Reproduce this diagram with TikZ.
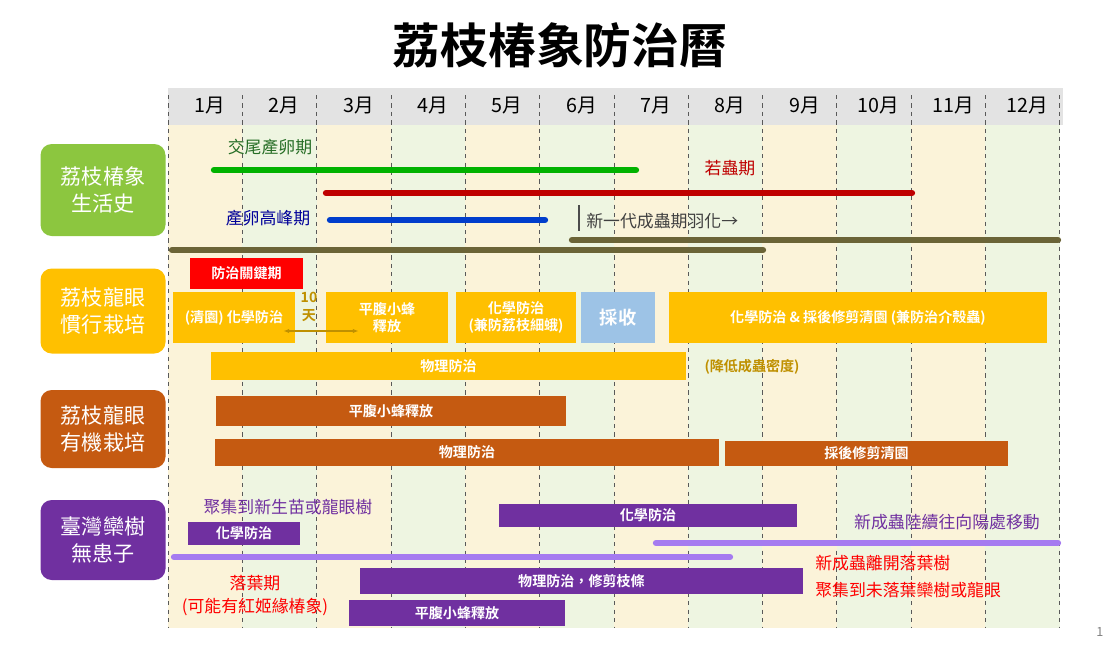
\documentclass[tikz,border=0pt]{standalone}
\usepackage{fontspec}
\setmainfont{Noto Sans CJK TC}
\newfontfamily\cjkb[FakeBold=0]{Noto Sans CJK TC Bold}
\usetikzlibrary{arrows.meta}

\definecolor{creambg}{HTML}{FBF3D9}
\definecolor{greenbg}{HTML}{EEF5E1}
\definecolor{headbg}{HTML}{E3E3E3}
\definecolor{leafgreen}{HTML}{8CC63F}
\definecolor{gold}{HTML}{FFC000}
\definecolor{rust}{HTML}{C55A11}
\definecolor{grape}{HTML}{7030A0}
\definecolor{lilac}{HTML}{A57BF0}
\definecolor{olive}{HTML}{6B6437}
\definecolor{sky}{HTML}{9DC3E6}
\definecolor{darkgold}{HTML}{BF9000}

% bar with centred label: x1 y1 x2 y2 colour text name
\newcommand{\tbar}[7]{%
  \fill[#5] (#1,#2) rectangle (#3,#4);
  \node[bartext] (#7) at ({(#1+#3)/2},{(#2+#4)/2}) {#6};}

\begin{document}
\begin{tikzpicture}[x=0.025cm, y=-0.025cm,
    bartext/.style={text=white, font=\cjkb\fontsize{10}{12}\selectfont, align=center, inner sep=0pt},
    catbox/.style={fill=#1, rounded corners=8pt, text=white, font=\fontsize{15}{19}\selectfont, align=center},
    note/.style={font=\fontsize{12}{14}\selectfont, inner sep=0pt},
    month/.style={font=\fontsize{14}{16}\selectfont},
    period/.style={line width=4.5pt, line cap=round}]
\useasboundingbox (0,0) rectangle (1120,660);

% columns
\foreach \m in {1,...,12}{
  \pgfmathsetmacro\xa{168+74.3*(\m-1)}
  \pgfmathsetmacro\xb{168+74.3*\m}
  \pgfmathtruncatemacro\odd{mod(\m,2)}
  \ifnum\odd=1 \fill[creambg] (\xa,125) rectangle (\xb,628);
  \else \fill[greenbg] (\xa,125) rectangle (\xb,628); \fi
}
\fill[headbg] (168,88) rectangle (1063,125);
\foreach \m in {0,...,12}
  \draw[dashed, gray!70!black, thin] ({168+74.3*\m},95) -- ({168+74.3*\m},628);
\foreach \m in {1,...,12}
  \node[month] (m\m) at ({210+74.3*(\m-1)},106) {\m 月};

% title
\node[font=\cjkb\fontsize{34}{40}\selectfont] (title) at (560,45) {荔枝椿象防治曆};
\node[gray, font=\small] (page) at (1100,632) {1};

% categories
\node[catbox=leafgreen, minimum width=125*0.025cm, minimum height=92*0.025cm] (life) at (103,190) {荔枝椿象\\生活史};
\node[catbox=gold, minimum width=125*0.025cm, minimum height=85*0.025cm] (usual) at (103,311) {荔枝龍眼\\慣行栽培};
\node[catbox=rust, minimum width=125*0.025cm, minimum height=78*0.025cm] (organic) at (103,429) {荔枝龍眼\\有機栽培};
\node[catbox=grape, minimum width=125*0.025cm, minimum height=80*0.025cm] (luan) at (103,540) {臺灣欒樹\\無患子};

% life history
\node[note, text=green!40!black!70!gray] (mating) at (270,147) {交尾產卵期};
\draw[period, green!70!black] (214,170) -- (636,170);
\node[note, text=red!75!black] (nymph) at (730,168) {若蟲期};
\draw[period, red!75!black] (326,193) -- (912,193);
\node[note, text=blue!60!black] (peak) at (268,218) {產卵高峰期};
\draw[period, blue!70!cyan!80!black] (330,220) -- (545,220);
\draw[line width=1pt, black!70] (579,205) -- (579,231);
\node[note, text=black!75, anchor=west] (newgen) at (586,221) {新一代成蟲期羽化→};
\draw[period, olive] (172,250) -- (763,250);
\draw[period, olive] (572,240) -- (1058,240);

% conventional
\tbar{190}{258}{303}{289}{red}{防治關鍵期}{key}
\tbar{173}{292}{295}{343}{gold}{(清園) 化學防治}{chem1}
\tbar{326}{292}{448}{343}{gold}{平腹小蜂\\釋放}{wasp1}
\tbar{456}{292}{576}{343}{gold}{化學防治\\(兼防荔枝細蛾)}{chem2}
\tbar{581}{292}{655}{343}{sky}{\fontsize{13}{15}\selectfont 採收}{harvest}
\tbar{669}{292}{1047}{343}{gold}{化學防治 \& 採後修剪清園 (兼防治介殼蟲)}{chem3}
\node[bartext, text=darkgold, font=\cjkb\fontsize{10}{13}\selectfont] (tenday) at (309,307) {10\\天};
\draw[{Latex[length=4pt]}-{Latex[length=4pt]}, darkgold, line width=1.2pt] (chem1.east |- 0,331) -- (wasp1.west |- 0,331);
\tbar{211}{352}{686}{380}{gold}{物理防治}{phys1}
\node[bartext, text=darkgold] (lower) at (752,367) {(降低成蟲密度)};

% organic
\tbar{216}{396}{566}{426}{rust}{平腹小蜂釋放}{wasp2}
\tbar{215}{439}{719}{466}{rust}{物理防治}{phys2}
\tbar{725}{441}{1008}{466}{rust}{採後修剪清園}{prune2}

% goldenrain tree
\node[note, text=grape] (gather) at (288,507) {聚集到新生苗或龍眼樹};
\tbar{188}{522}{300}{545}{grape}{化學防治}{chem4}
\tbar{499}{504}{797}{527}{grape}{化學防治}{chem5}
\node[note, text=grape] (move) at (947,522) {新成蟲陸續往向陽處移動};
\draw[period, lilac] (656,543) -- (1058,543);
\draw[period, lilac] (174,557) -- (730,557);
\node[note, text=red, anchor=west] (leave) at (815,563) {新成蟲離開落葉樹};
\node[note, text=red, anchor=west] (reach) at (815,590) {聚集到未落葉欒樹或龍眼};
\node[note, text=red] (fall) at (255,583) {落葉期};
\node[note, text=red] (redbug) at (255,607) {(可能有紅姬緣椿象)};
\tbar{360}{568}{803}{594}{grape}{物理防治，修剪枝條}{phys3}
\tbar{349}{600}{565}{626}{grape}{平腹小蜂釋放}{wasp3}
\end{tikzpicture}
\end{document}
